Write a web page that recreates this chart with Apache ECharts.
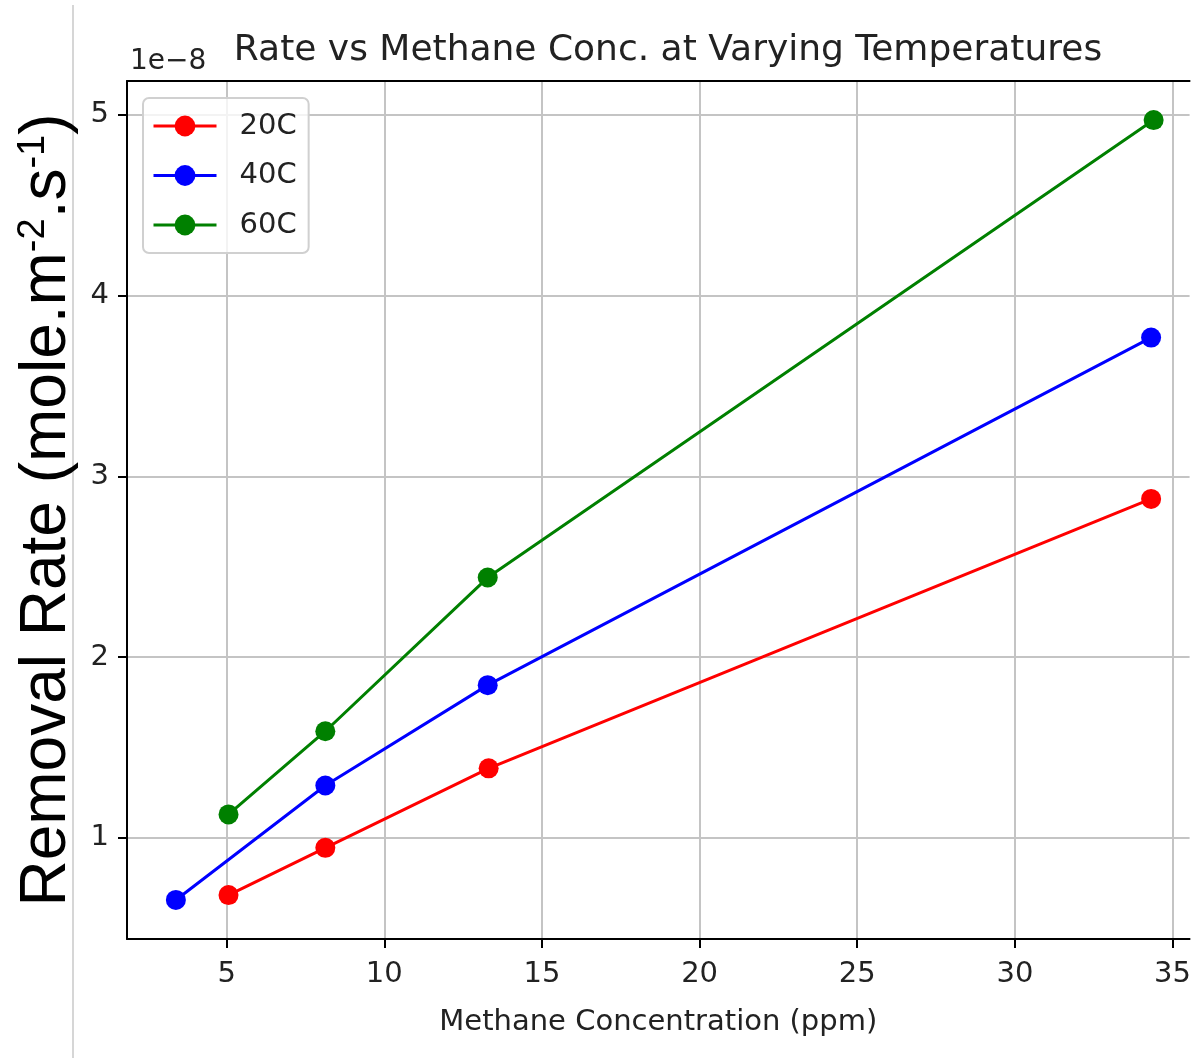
<!DOCTYPE html>
<html>
<head>
<meta charset="utf-8">
<script src="https://cdn.jsdelivr.net/npm/echarts@6/dist/echarts.min.js"></script>
<style>
  html, body { margin: 0; padding: 0; background: #fff; }
  #chartLine { width: 1194px; height: 1058px; }
</style>
</head>
<body>
<div id="chartLine"></div>
<script>
  // values, y in units of 1e-8
  var temps = ['20C', '40C', '60C']
  var colors = ['#ff0000', '#0000ff', '#008000']
  var conc20 = [5.06, 8.13, 13.31, 34.32]
  var rate20 = [0.684, 0.945, 1.385, 2.875]
  var conc40 = [3.39, 8.13, 13.28, 34.32]
  var rate40 = [0.657, 1.29, 1.845, 3.767]
  var conc60 = [5.06, 8.13, 13.28, 34.4]
  var rate60 = [1.13, 1.59, 2.44, 4.97]
  var xTicks = [5, 10, 15, 20, 25, 30, 35]
  var yTicks = [1, 2, 3, 4, 5]

  var font = 'DejaVu Sans'
  // the picture is cropped on the right, so the x range stops before the right spine
  var xMin = 1.84
  var xMax = 35.54

  function pairs(xs, ys) {
    var out = []
    for (let i = 0; i < xs.length; i++) {
      out.push([xs[i], ys[i]])
    }
    return out
  }
  var allData = [pairs(conc20, rate20), pairs(conc40, rate40), pairs(conc60, rate60)]

  var series = []
  for (let i = 0; i < temps.length; i++) {
    series.push({
      name: temps[i],
      type: 'line',
      data: allData[i],
      symbol: 'circle',
      symbolSize: 20,
      color: colors[i],
      lineStyle: { width: 3, color: colors[i] },
      itemStyle: { color: colors[i] },
      animation: false
    })
  }

  let myChart = echarts.init(document.getElementById('chartLine'))
  myChart.setOption({
    backgroundColor: '#fff',
    animation: false,
    title: {
      text: 'Rate vs Methane Conc. at Varying Temperatures',
      left: 663,
      textAlign: 'center',
      top: 28,
      textStyle: { fontFamily: font, fontSize: 36, fontWeight: 'normal', color: '#222' }
    },
    legend: {
      orient: 'vertical',
      left: 143,
      top: 98,
      data: temps,
      itemWidth: 63,
      itemHeight: 26,
      itemGap: 19.5,
      padding: [13, 12, 13, 9],
      borderColor: '#d0d0d0',
      borderWidth: 2,
      borderRadius: 6,
      backgroundColor: 'rgba(255,255,255,0.8)',
      lineStyle: { width: 3 },
      textStyle: { fontFamily: font, fontSize: 29, lineHeight: 30, color: '#222', padding: [0, 0, 0, 18] }
    },
    graphic: [
      {
        type: 'line',
        shape: { x1: 73, y1: 5, x2: 73, y2: 1058 },
        style: { stroke: '#c8c8c8', lineWidth: 1.5 }
      },
      {
        type: 'text',
        left: 130,
        top: 48,
        style: { text: '1e\u22128', fontFamily: font, fontSize: 28, fill: '#222' }
      }
    ],
    grid: {
      left: 127,
      top: 81,
      right: 0,
      bottom: 119,
      containLabel: false
    },
    xAxis: [
      {
        type: 'value',
        min: xMin,
        max: xMax,
        name: 'Methane Concentration (ppm)',
        nameLocation: 'middle',
        nameGap: 69,
        nameTextStyle: { fontFamily: font, fontSize: 29, color: '#222' },
        axisLine: { show: true, lineStyle: { color: '#000', width: 2 } },
        axisTick: { show: true, length: 9, customValues: xTicks, lineStyle: { color: '#000', width: 2 } },
        axisLabel: { customValues: xTicks, margin: 21, fontFamily: font, fontSize: 29, color: '#222' },
        splitLine: { show: true, lineStyle: { color: '#c4c4c4', width: 2 } }
      },
      {
        // top spine only
        type: 'value',
        position: 'top',
        min: xMin,
        max: xMax,
        axisLine: { show: true, onZero: false, lineStyle: { color: '#000', width: 2 } },
        axisTick: { show: false },
        axisLabel: { show: false },
        splitLine: { show: false }
      }
    ],
    yAxis: {
      type: 'value',
      min: 0.441,
      max: 5.186,
      name: '{a|Removal Rate (mole.m}{s|-2}{a|.s}{s|-1}{a|)}',
      nameLocation: 'middle',
      nameRotate: 90,
      nameGap: 48,
      nameTextStyle: {
        rich: {
          a: { fontFamily: 'Liberation Sans', fontSize: 64, color: '#000' },
          s: { fontFamily: 'Liberation Sans', fontSize: 38, color: '#000', verticalAlign: 'top' }
        }
      },
      axisLine: { show: true, onZero: false, lineStyle: { color: '#000', width: 2 } },
      axisTick: { show: true, length: 9, customValues: yTicks, lineStyle: { color: '#000', width: 2 } },
      axisLabel: { customValues: yTicks, margin: 18, fontFamily: font, fontSize: 29, color: '#222' },
      splitLine: { show: true, lineStyle: { color: '#c4c4c4', width: 2 } }
    },
    series: series
  })
</script>
</body>
</html>
